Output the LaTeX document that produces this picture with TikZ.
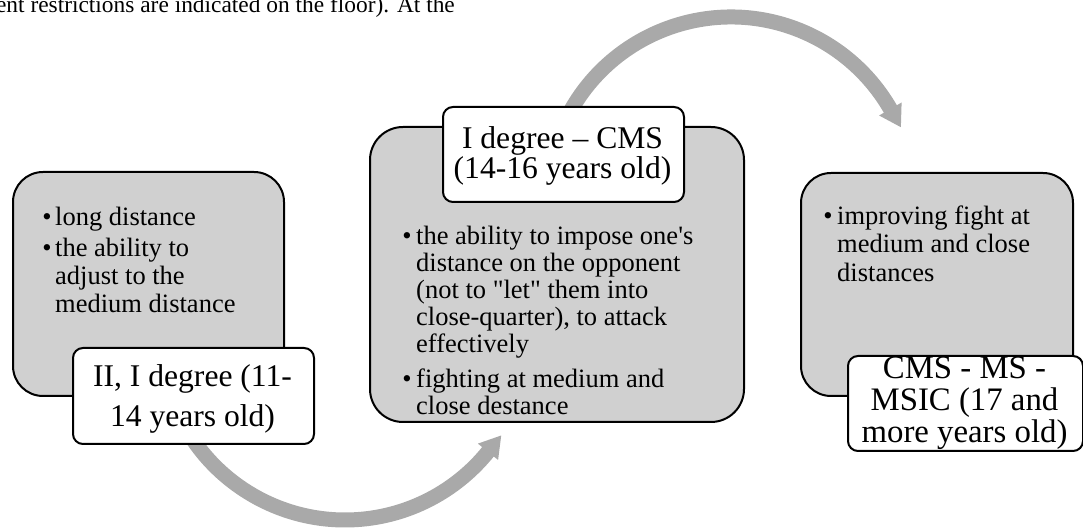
\documentclass[tikz,border=0pt]{standalone}
\usepackage{fontspec}
\setmainfont{Liberation Serif}[Ligatures=TeXOff]
\usetikzlibrary{calc}
\definecolor{boxgrey}{HTML}{D0D0D0}
\definecolor{arrowgrey}{HTML}{A9A9A9}
\begin{document}
\begin{tikzpicture}[x=1pt,y=1pt,
  greybox/.style={draw=black, line width=2pt, fill=boxgrey, rounded corners=30pt, inner sep=0pt, anchor=south west},
  whitebox/.style={draw=black, line width=2pt, fill=white, rounded corners=10pt, inner sep=0pt, anchor=south west},
  bt/.style={inner sep=0pt, font=\fontsize{26.5}{28}\selectfont, anchor=base west},
  bul/.style={inner sep=0pt, font=\fontsize{26.5}{28}\selectfont, anchor=base},
  tta/.style={inner sep=0pt, font=\fontsize{31.6}{32}\selectfont, anchor=base},
  ttb/.style={inner sep=0pt, font=\fontsize{32.8}{33}\selectfont, anchor=base},
  arrowline/.style={draw=arrowgrey, line width=15pt},
  headfill/.style={fill=arrowgrey}
]
\useasboundingbox (0,0) rectangle (1083,529);
\node[inner sep=0pt, anchor=base east, font=\fontsize{23.4}{24}\selectfont] (top) at (455,516) {ent restrictions are indicated on the floor). At the};

% circular arrows (behind boxes)
\coordinate (c1) at (345,193);
\coordinate (c2) at (731,328);
\draw[arrowline] ($(c1)+(-150:184pt)$) arc[start angle=-150,end angle=-38.5,radius=184pt];
\coordinate (b1) at ($(c1)+(-39:184pt)$);
\fill[headfill] ($(b1)+(-39:13pt)$) -- ($(b1)+(51:21pt)$) -- ($(b1)+(141:13pt)$) -- cycle;
\draw[arrowline] ($(c2)+(155:184pt)$) arc[start angle=155,end angle=29.5,radius=184pt];
\coordinate (b2) at ($(c2)+(30:184pt)$);
\fill[headfill] ($(b2)+(30:13pt)$) -- ($(b2)+(-60:21pt)$) -- ($(b2)+(210:13pt)$) -- cycle;

% boxes
\node[greybox, minimum width=271pt, minimum height=224pt] (g1) at (12,132) {};
\node[whitebox, minimum width=241pt, minimum height=96pt] (w1) at (72,84) {};
\node[greybox, rounded corners=33pt, minimum width=374pt, minimum height=295pt] (g2) at (369,106) {};
\node[whitebox, minimum width=241pt, minimum height=95pt] (w2) at (442,326) {};
\node[greybox, minimum width=272pt, minimum height=223pt] (g3) at (800,132) {};
\node[whitebox, minimum width=235pt, minimum height=95pt] (w3) at (847,77) {};

% box 1 text
\node[bul] (g1b1) at (47,303) {•};
\node[bt] (g1t1) at (55,303) {long distance};
\node[bul] (g1b2) at (47,272) {•};
\node[bt] (g1t2) at (55,272) {the ability to};
\node[bt] (g1t3) at (55,244) {adjust to the};
\node[bt] (g1t4) at (55,216) {medium distance};

% box 2 text
\node[bul] (g2b1) at (407,284) {•};
\node[bt] (g2t1) at (416,284) {the ability to impose one's};
\node[bt] (g2t2) at (416,257) {distance on the opponent};
\node[bt] (g2t3) at (416,230) {(not to "let" them into};
\node[bt] (g2t4) at (416,203) {close-quarter), to attack};
\node[bt] (g2t5) at (416,176) {effectively};
\node[bul] (g2b2) at (407,141) {•};
\node[bt] (g2t6) at (416,141) {fighting at medium and};
\node[bt] (g2t7) at (416,114) {close destance};

% box 3 text
\node[bul] (g3b1) at (828,304) {•};
\node[bt] (g3t1) at (837,304) {improving fight at};
\node[bt] (g3t2) at (837,276) {medium and close};
\node[bt] (g3t3) at (837,247) {distances};

% titles
\node[tta] (w1a) at (192.5,142) {II, I degree (11-};
\node[tta] (w1b) at (192.5,102) {14 years old)};
\node[tta] (w2a) at (562.5,380) {I degree – CMS};
\node[tta] (w2b) at (562.5,350) {(14-16 years old)};
\node[ttb] (w3a) at (964.5,150) {CMS - MS -};
\node[ttb] (w3b) at (964.5,118) {MSIC (17 and};
\node[ttb] (w3c) at (964.5,86) {more years old)};
\end{tikzpicture}
\end{document}
